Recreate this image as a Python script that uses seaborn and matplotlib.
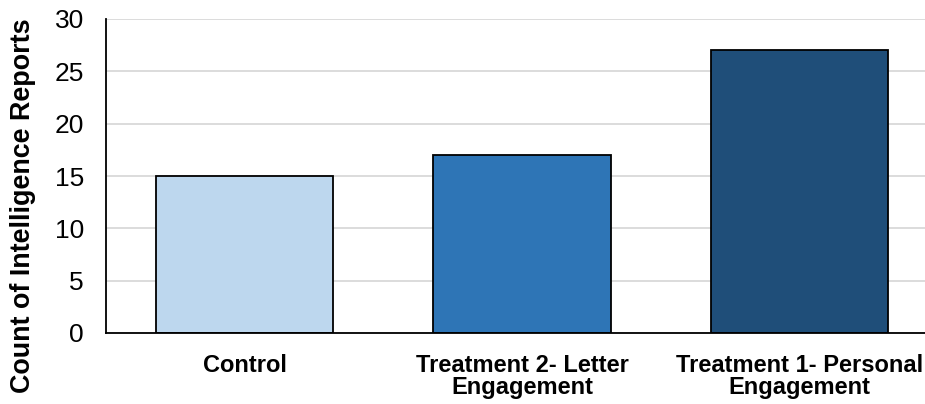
import matplotlib
matplotlib.use("Agg")
import matplotlib.pyplot as plt
import seaborn as sns
import pandas as pd

categories = ["Control", "Treatment 2- Letter\nEngagement", "Treatment 1- Personal\nEngagement"]
counts = [15, 17, 27]
colors = ["#BDD7EE", "#2E75B6", "#1F4E79"]

sns.set_theme(style="white")
plt.rcParams['font.family'] = ['Liberation Sans', 'DejaVu Sans']

df = pd.DataFrame({"cat": categories, "count": counts})

fig = plt.figure(figsize=(9.25, 4.04), dpi=100)
ax = fig.add_axes([106/925, 1 - 333/404, 832/925, (333-19)/404])
sns.barplot(data=df, x="cat", y="count", hue="cat", palette=colors, legend=False,
            width=0.64, edgecolor="black", linewidth=1.3, ax=ax, saturation=1)

ax.set_ylim(0, 30)
ax.set_yticks(range(0, 31, 5))
ax.yaxis.grid(True, color="#D9D9D9", linewidth=1.3)
ax.set_axisbelow(True)
for s in ["top", "right"]:
    ax.spines[s].set_visible(False)
ax.spines["left"].set_color("black")
ax.spines["bottom"].set_color("black")
ax.spines["left"].set_linewidth(1.3)
ax.spines["bottom"].set_linewidth(1.3)
ax.tick_params(axis="y", labelsize=19, length=0, pad=16, colors="black")
ax.tick_params(axis="x", labelsize=17, length=0, pad=15, colors="black")
for lab in ax.get_xticklabels():
    lab.set_fontweight("bold")
    lab.set_linespacing(0.95)
ax.set_xlabel("")
ax.set_ylabel("Count of Intelligence Reports", fontsize=19.4, fontweight="bold", color="black")
ax.yaxis.set_label_coords(-0.0845, 0.405)

fig.savefig("out.png", dpi=100)
